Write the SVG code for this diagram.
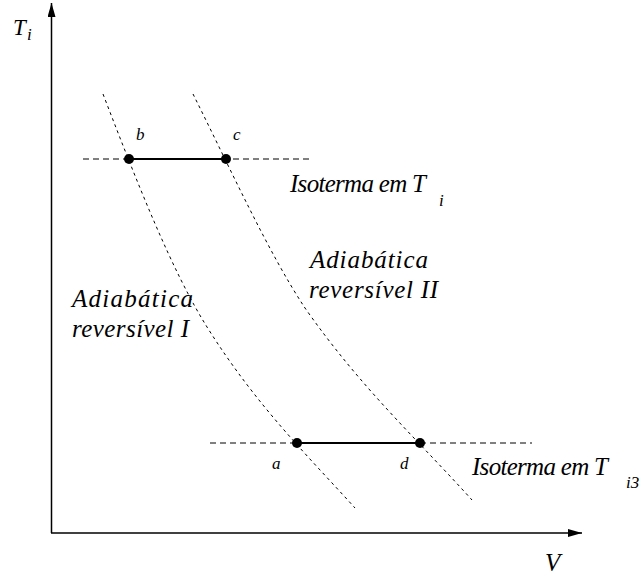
<svg xmlns="http://www.w3.org/2000/svg" width="642" height="576" viewBox="0 0 642 576">
<style>
.axis{stroke:#000;stroke-width:1.5;fill:none}
.iso{stroke:#000;stroke-width:1;stroke-dasharray:6 4;fill:none}
.adi{stroke:#000;stroke-width:1;stroke-dasharray:3 3.5;fill:none}
.proc{stroke:#000;stroke-width:2;fill:none}
.pt{fill:#000}
.lbl{font-size:25px}
.big{font-size:25px}
.sm{font-size:17px}
</style>
<defs>
<marker id="arr" viewBox="0 0 14 8" refX="14" refY="4" markerWidth="14" markerHeight="8" markerUnits="userSpaceOnUse" orient="auto">
<path d="M0,0 L14,4 L0,8 Z" fill="#000"/>
</marker>
</defs>
<g id="connectors">
<line class="axis" x1="51.5" y1="533" x2="51.5" y2="3" marker-end="url(#arr)"/>
<line class="axis" x1="51" y1="533" x2="582" y2="533" marker-end="url(#arr)"/>
<line class="iso" x1="83" y1="159" x2="310" y2="159"/>
<line class="iso" x1="210" y1="443" x2="532" y2="443"/>
<path class="adi" d="M103,94 C138,185 172,271 207,327 C256,405 306,454 355,508"/>
<path class="adi" d="M193,94 C230,168 268,252 305,308 C361,388 416,438 472,500"/>
<line class="proc" x1="129" y1="159" x2="226" y2="159"/>
<line class="proc" x1="297" y1="443" x2="420" y2="443"/>
</g>
<g font-family="Liberation Serif, Times New Roman, DejaVu Serif, serif" font-style="italic" fill="#000">
<g id="node-b"><circle class="pt" cx="129" cy="159" r="5"/><text class="sm" x="136" y="140">b</text></g>
<g id="node-c"><circle class="pt" cx="226" cy="159" r="5"/><text class="sm" x="233" y="140">c</text></g>
<g id="node-a"><circle class="pt" cx="297" cy="443" r="5"/><text class="sm" x="272" y="469">a</text></g>
<g id="node-d"><circle class="pt" cx="420" cy="443" r="5"/><text class="sm" x="400" y="469">d</text></g>
<g id="label-Ti-axis"><text x="13" y="35" font-size="23">T</text><text class="sm" x="27" y="40">i</text></g>
<g id="label-V"><text class="big" x="545" y="571">V</text></g>
<g id="label-iso-top"><text class="lbl" x="290" y="192" textLength="136">Isoterma em T</text><text class="sm" x="439" y="206">i</text></g>
<g id="label-iso-bottom"><text class="lbl" x="472" y="475" textLength="136">Isoterma em T</text><text class="sm" x="626" y="488">i3</text></g>
<g id="label-adi-2"><text class="big" x="310" y="268" textLength="118">Adiabática</text><text class="big" x="309" y="298" textLength="129">reversível II</text></g>
<g id="label-adi-1"><text class="big" x="72" y="307" textLength="121">Adiabática</text><text class="big" x="72" y="337" textLength="117">reversível I</text></g>
</g>
</svg>
